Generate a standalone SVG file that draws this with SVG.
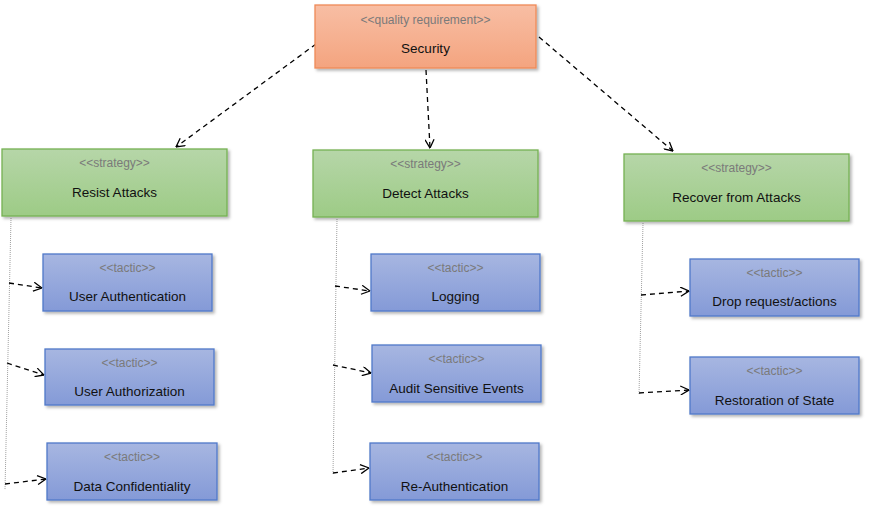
<svg xmlns="http://www.w3.org/2000/svg" width="875" height="517" viewBox="0 0 875 517">
<defs>
<linearGradient id="gOrange" x1="0" y1="0" x2="0" y2="1"><stop offset="0" stop-color="#f8bea4"/><stop offset="1" stop-color="#f4a47f"/></linearGradient>
<linearGradient id="gGreen" x1="0" y1="0" x2="0" y2="1"><stop offset="0" stop-color="#b6d6a8"/><stop offset="1" stop-color="#9dcb86"/></linearGradient>
<linearGradient id="gBlue" x1="0" y1="0" x2="0" y2="1"><stop offset="0" stop-color="#a7b6e1"/><stop offset="1" stop-color="#849ad7"/></linearGradient>
<filter id="sh" x="-10%" y="-10%" width="125%" height="135%"><feDropShadow dx="2" dy="2" stdDeviation="1.5" flood-color="#000" flood-opacity="0.3"/></filter>
<marker id="arr" viewBox="0 0 10 10" refX="9.5" refY="5" markerWidth="10" markerHeight="10" markerUnits="userSpaceOnUse" orient="auto"><path d="M1,0.5 L9.5,5 L1,9.5" fill="none" stroke="#000" stroke-width="1.3"/></marker>
</defs>
<style>
.req{fill:url(#gOrange);stroke:#ee8a58;stroke-width:1.3;filter:url(#sh)}
.str{fill:url(#gGreen);stroke:#76b153;stroke-width:1.3;filter:url(#sh)}
.tac{fill:url(#gBlue);stroke:#5079c9;stroke-width:1.3;filter:url(#sh)}
.st{font-family:"Liberation Sans",Arial,sans-serif;font-size:12px;fill:#7a7a7a;text-anchor:middle}
.nm{font-family:"Liberation Sans",Arial,sans-serif;font-size:13.5px;fill:#111;text-anchor:middle}
.dep{fill:none;stroke:#000;stroke-width:1.3;stroke-dasharray:5,4;marker-end:url(#arr)}
.dot{fill:none;stroke:#a0a0a0;stroke-width:1;stroke-dasharray:1,1}
</style>
<g id="connectors">
<line class="dot" x1="11" y1="218" x2="5" y2="490"/>
<line class="dot" x1="337" y1="219" x2="333" y2="474"/>
<line class="dot" x1="643" y1="223" x2="639" y2="395"/>
<line class="dep" x1="316" y1="44" x2="176" y2="147"/>
<line class="dep" x1="426" y1="70" x2="430" y2="148"/>
<line class="dep" x1="539" y1="37" x2="673" y2="151"/>
<line class="dep" x1="9" y1="283" x2="42" y2="288"/>
<line class="dep" x1="7" y1="363" x2="44" y2="375"/>
<line class="dep" x1="5" y1="484" x2="46" y2="479"/>
<line class="dep" x1="335" y1="286" x2="370" y2="291"/>
<line class="dep" x1="333" y1="365" x2="371" y2="373"/>
<line class="dep" x1="333" y1="473" x2="369" y2="468"/>
<line class="dep" x1="641" y1="295" x2="689" y2="291"/>
<line class="dep" x1="639" y1="393" x2="689" y2="390"/>
</g>
<g id="security">
<rect class="req" x="315" y="5" width="221" height="63"/>
<text class="st" x="425.5" y="24">&lt;&lt;quality requirement&gt;&gt;</text>
<text class="nm" x="425.5" y="53">Security</text>
</g>
<g id="resist">
<rect class="str" x="2" y="149" width="225" height="67"/>
<text class="st" x="114.5" y="167">&lt;&lt;strategy&gt;&gt;</text>
<text class="nm" x="114.5" y="197">Resist Attacks</text>
</g>
<g id="detect">
<rect class="str" x="313" y="150" width="225" height="67"/>
<text class="st" x="425.5" y="168">&lt;&lt;strategy&gt;&gt;</text>
<text class="nm" x="425.5" y="198">Detect Attacks</text>
</g>
<g id="recover">
<rect class="str" x="624" y="154" width="225" height="67"/>
<text class="st" x="736.5" y="172">&lt;&lt;strategy&gt;&gt;</text>
<text class="nm" x="736.5" y="202">Recover from Attacks</text>
</g>
<g id="userAuthentication">
<rect class="tac" x="43" y="254" width="169" height="57"/>
<text class="st" x="127.5" y="272">&lt;&lt;tactic&gt;&gt;</text>
<text class="nm" x="127.5" y="301">User Authentication</text>
</g>
<g id="userAuthorization">
<rect class="tac" x="45" y="349" width="169" height="56"/>
<text class="st" x="129.5" y="367">&lt;&lt;tactic&gt;&gt;</text>
<text class="nm" x="129.5" y="396">User Authorization</text>
</g>
<g id="dataConfidentiality">
<rect class="tac" x="47" y="443" width="170" height="57"/>
<text class="st" x="132" y="461">&lt;&lt;tactic&gt;&gt;</text>
<text class="nm" x="132" y="491">Data Confidentiality</text>
</g>
<g id="logging">
<rect class="tac" x="371" y="254" width="169" height="57"/>
<text class="st" x="455.5" y="272">&lt;&lt;tactic&gt;&gt;</text>
<text class="nm" x="455.5" y="301">Logging</text>
</g>
<g id="audit">
<rect class="tac" x="372" y="345" width="169" height="57"/>
<text class="st" x="456.5" y="363">&lt;&lt;tactic&gt;&gt;</text>
<text class="nm" x="456.5" y="393">Audit Sensitive Events</text>
</g>
<g id="reauth">
<rect class="tac" x="370" y="443" width="169" height="57"/>
<text class="st" x="454.5" y="461">&lt;&lt;tactic&gt;&gt;</text>
<text class="nm" x="454.5" y="491">Re-Authentication</text>
</g>
<g id="drop">
<rect class="tac" x="690" y="259" width="169" height="57"/>
<text class="st" x="774.5" y="277">&lt;&lt;tactic&gt;&gt;</text>
<text class="nm" x="774.5" y="306">Drop request/actions</text>
</g>
<g id="restoration">
<rect class="tac" x="690" y="357" width="169" height="57"/>
<text class="st" x="774.5" y="375">&lt;&lt;tactic&gt;&gt;</text>
<text class="nm" x="774.5" y="405">Restoration of State</text>
</g>
</svg>
